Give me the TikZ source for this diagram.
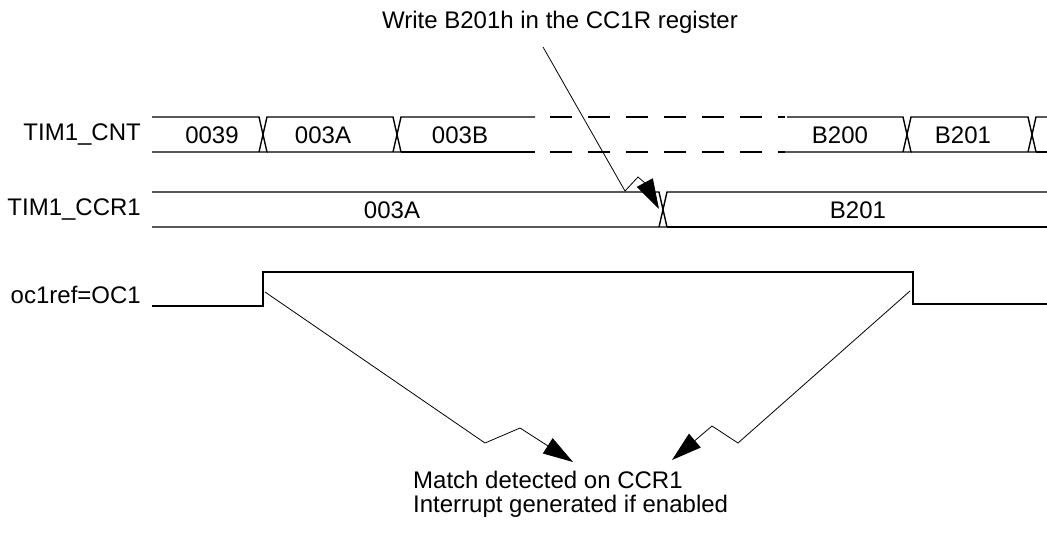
\documentclass[tikz,border=0pt]{standalone}
\usepackage{fontspec}
\setmainfont{Liberation Sans}
\usetikzlibrary{arrows.meta}
\begin{document}
\begin{tikzpicture}[x=1pt,y=-1pt,
  sig/.style={line width=1.4pt},
  thin/.style={line width=0.8pt},
  lbl/.style={font=\fontsize{24}{27}\selectfont, inner sep=0pt},
  hd/.style={-{Triangle[length=30pt,width=18pt]}}]
\useasboundingbox (0,0) rectangle (1047,544);
% labels
\node[lbl,anchor=east] (lcnt) at (141,135) {TIM1\_CNT};
\node[lbl,anchor=east] (lccr) at (141,210) {TIM1\_CCR1};
\node[lbl,anchor=east] (loc) at (141,295) {oc1ref=OC1};
\node[lbl] (wr) at (560,22) {Write B201h in the CC1R register};
\node[lbl,anchor=west] (m1) at (413,480) {Match detected on CCR1};
\node[lbl,anchor=west] (m2) at (413,506) {Interrupt generated if enabled};
% CNT bus
\def\ta{117}\def\tb{152}
\draw[sig] (152,\ta) -- (259,\ta) -- (267,\tb) -- (152,\tb);
\draw[sig] (259,\tb) -- (267,\ta) -- (393,\ta) -- (401,\tb) -- (267,\tb);
\draw[sig] (393,\tb) -- (401,\ta) -- (535,\ta);
\draw[sig] (401,\tb) -- (535,\tb);
\draw[sig,dash pattern=on 22pt off 16pt] (550,\ta) -- (785,\ta);
\draw[sig,dash pattern=on 22pt off 16pt] (550,\tb) -- (785,\tb);
\draw[sig] (787,\ta) -- (903,\ta) -- (911,\tb) -- (785,\tb);
\draw[sig] (903,\tb) -- (911,\ta) -- (1028,\ta) -- (1036,\tb) -- (911,\tb);
\draw[sig] (1028,\tb) -- (1036,\ta) -- (1047,\ta);
\draw[sig] (1036,\tb) -- (1047,\tb);
\node[lbl] (c1) at (212,135) {0039};
\node[lbl] (c2) at (323,135) {003A};
\node[lbl] (c3) at (460,135) {003B};
\node[lbl] (c4) at (840,135) {B200};
\node[lbl] (c5) at (963,135) {B201};
% CCR1 bus
\def\ca{192}\def\cb{227}
\draw[sig] (152,\ca) -- (659,\ca) -- (667,\cb) -- (152,\cb);
\draw[sig] (659,\cb) -- (667,\ca) -- (1047,\ca);
\draw[sig] (667,\cb) -- (1047,\cb);
\node[lbl] (r1) at (392,210) {003A};
\node[lbl] (r2) at (858,210) {B201};
% oc1ref
\draw[sig] (152,306) -- (263,306) -- (263,272) -- (913,272) -- (913,304) -- (1047,304);
% write arrow
\coordinate (w0) at (543,47);
\coordinate (w1) at (625,191);
\coordinate (w2) at (638,177);
\coordinate (w3) at (645,183);
\coordinate (w4) at (659,209);
\draw[thin] (w0) -- (w1) -- (w2) -- (w3);
\draw[thin,hd] (w3) -- (w4);
% match arrows
\coordinate (a0) at (265,292);
\coordinate (a1) at (485,443);
\coordinate (a2) at (520,428);
\coordinate (a3) at (573,462);
\draw[thin,hd] (a0) -- (a1) -- (a2) -- (a3);
\coordinate (b0) at (910,291);
\coordinate (b1) at (738,443);
\coordinate (b2) at (712,426);
\coordinate (b3) at (672,460);
\draw[thin,hd] (b0) -- (b1) -- (b2) -- (b3);
\end{tikzpicture}
\end{document}
